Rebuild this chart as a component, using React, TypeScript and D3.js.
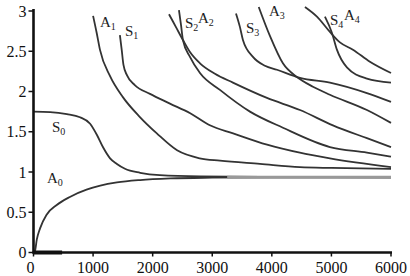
import { scaleLinear, line, curveMonotoneX } from 'd3';

const xTicks = [0, 1000, 2000, 3000, 4000, 5000, 6000];
const yTicks = [0, 0.5, 1, 1.5, 2, 2.5, 3];
const yTickLabels = ['0', '0.5', '1', '1.5', '2', '2.5', '3'];

// [x, y]
const A0 = [[0, 0], [25, 0.02], [55, 0.16], [110, 0.3], [220, 0.47], [390, 0.59], [610, 0.69], [890, 0.78], [1120, 0.83], [1400, 0.87], [1790, 0.9], [2300, 0.92], [3000, 0.93], [4000, 0.935], [6000, 0.935]];
const S0 = [[0, 1.75], [280, 1.745], [560, 1.72], [780, 1.68], [950, 1.6], [1065, 1.46], [1165, 1.31], [1285, 1.17], [1400, 1.1], [1535, 1.04], [1790, 0.99], [2120, 0.96], [2800, 0.945], [4000, 0.94], [6000, 0.935]];
const A1 = [[1000, 2.94], [1060, 2.73], [1115, 2.52], [1285, 2.19], [1500, 1.93], [1790, 1.68], [2070, 1.48], [2410, 1.27], [2790, 1.17], [3130, 1.14], [3800, 1.1], [4470, 1.06], [5000, 1.05], [6000, 1.04]];
const S1 = [[1450, 2.7], [1480, 2.52], [1510, 2.33], [1570, 2.2], [1700, 2.08], [1955, 1.97], [2290, 1.85], [2630, 1.73], [2960, 1.58], [3350, 1.48], [3920, 1.34], [4470, 1.24], [4975, 1.17], [6000, 1.06]];
const A2 = [[2441, 3.01], [2475, 2.83], [2508, 2.64], [2626, 2.43], [2794, 2.23], [3129, 2.02], [3633, 1.75], [4186, 1.55], [4975, 1.31], [5596, 1.24], [6000, 1.19]];
const S2 = [[2274, 2.96], [2391, 2.8], [2508, 2.64], [2626, 2.49], [2794, 2.35], [3045, 2.22], [3347, 2.11], [3918, 1.92], [4472, 1.77], [5025, 1.58], [5596, 1.42], [6000, 1.31]];
const A3 = [[3780, 3.05], [3968, 2.69], [4186, 2.35], [4421, 2.18], [4690, 2.06], [4975, 1.96], [5596, 1.77], [6000, 1.61]];
const S3 = [[3398, 2.97], [3465, 2.8], [3515, 2.64], [3683, 2.43], [3884, 2.32], [4086, 2.27], [4472, 2.17], [4975, 2.11], [5596, 1.98], [6000, 1.87]];
const A4 = [[4891, 2.93], [5008, 2.73], [5092, 2.52], [5260, 2.3], [5596, 2.16], [6000, 2.11]];
const S4 = [[4556, 3.05], [4757, 2.93], [4975, 2.74], [5143, 2.61], [5361, 2.52], [5646, 2.37], [6000, 2.23]];
const baseSeg = [[0, 0], [480, 0]];
const grayBand = [[3250, 0.935], [6000, 0.935]];

const seriesNames = ['A0', 'S0', 'A1', 'S1', 'A2', 'S2', 'A3', 'S3', 'A4', 'S4'];
const seriesData = [A0, S0, A1, S1, A2, S2, A3, S3, A4, S4];

// label anchors (data coords), same order as seriesNames
const labelSpots = [[226, 0.86], [310, 1.5], [1116, 2.8], [1535, 2.69], [2760, 2.85], [2542, 2.79], [3951, 2.94], [3566, 2.73], [5210, 2.89], [4975, 2.83]];

export default function App() {
  const width = 410;
  const height = 276;
  const font = "'Liberation Serif', 'DejaVu Serif', serif";

  const x = scaleLinear().domain([0, 6000]).range([33.5, 391]);
  const y = scaleLinear().domain([0, 3]).range([252.5, 11]);

  const path = line()
    .x((d) => x(d[0]))
    .y((d) => y(d[1]))
    .curve(curveMonotoneX);

  return (
    <svg
      width={width}
      height={height}
      style={{ position: 'absolute', left: 0, top: 0, background: '#fff', fontFamily: font }}
    >
      {seriesData.map((d, i) => (
        <path key={seriesNames[i]} d={path(d)} fill="none" stroke="#333" strokeWidth={1.8} />
      ))}
      <path d={path(grayBand)} fill="none" stroke="#999" strokeWidth={3.2} />
      <path d={path(baseSeg)} fill="none" stroke="#111" strokeWidth={4} />

      {/* axes */}
      <line x1={x(0)} x2={x(0)} y1={y(3) - 2} y2={y(0) + 1} stroke="#111" strokeWidth={2.6} />
      <line x1={x(0) - 1} x2={x(6000) + 1} y1={y(0)} y2={y(0)} stroke="#111" strokeWidth={2.6} />
      {yTicks.map((t, i) => (
        <g key={t}>
          <line x1={x(0) - 5} x2={x(0)} y1={y(t)} y2={y(t)} stroke="#111" strokeWidth={1.5} />
          <text
            x={x(0) - 7}
            y={y(t)}
            textAnchor="end"
            dominantBaseline="central"
            fontSize={16}
            fill="#111"
          >
            {yTickLabels[i]}
          </text>
        </g>
      ))}
      {xTicks.map((t) => (
        <g key={t}>
          <line x1={x(t)} x2={x(t)} y1={y(0)} y2={y(0) + 4} stroke="#111" strokeWidth={1.5} />
          <text
            x={t === 0 ? x(t) - 3 : x(t)}
            y={273}
            textAnchor="middle"
            fontSize={16}
            fill="#111"
          >
            {t}
          </text>
        </g>
      ))}

      {seriesNames.map((name, i) => (
        <text
          key={name}
          x={x(labelSpots[i][0])}
          y={y(labelSpots[i][1])}
          fontSize={15}
          fill="#222"
        >
          {name[0]}
          <tspan fontSize={10} dy={3}>
            {name[1]}
          </tspan>
        </text>
      ))}
    </svg>
  );
}
